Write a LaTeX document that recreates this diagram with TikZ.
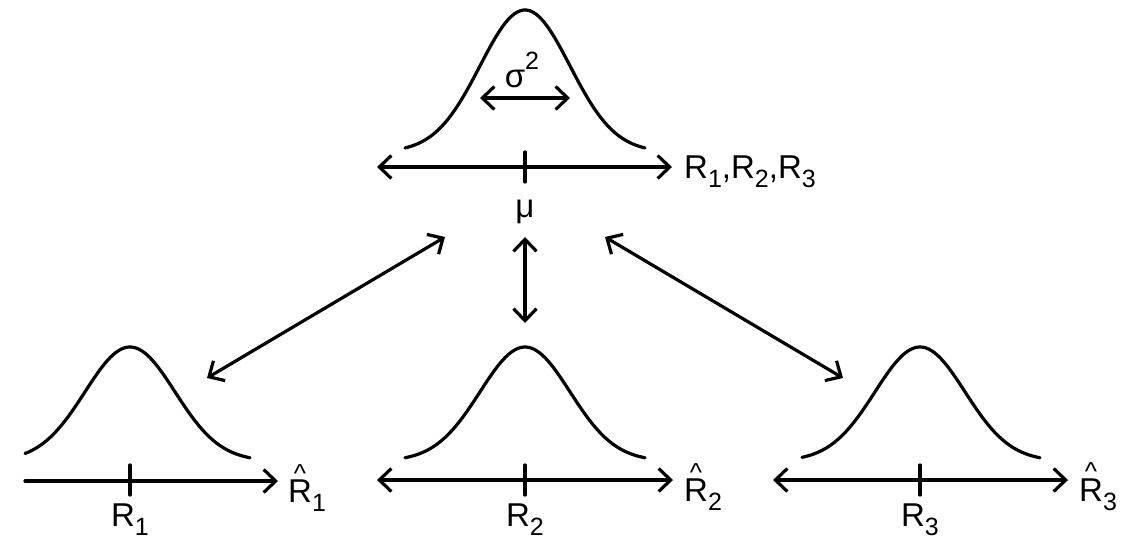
\documentclass[tikz,border=0pt]{standalone}
\usepackage{fontspec}
\setmainfont{Liberation Sans}
\usetikzlibrary{arrows.meta}
\newcommand\mysub[1]{\raisebox{-0.28em}{\fontsize{25}{25}\selectfont #1}}
\newcommand\mysup[1]{\raisebox{0.55em}{\fontsize{25}{25}\selectfont #1}}
\newcommand\myhatR{\rlap{\hspace{0.17em}\raisebox{0.62em}{\fontsize{26}{26}\selectfont\^{}}}R}
\tikzset{
  ln/.style={line width=3.2pt, line cap=round, line join=round},
  tip/.style={ln, arrows={Straight Barb[length=12pt,width=23pt,line width=3.2pt]-Straight Barb[length=12pt,width=23pt,line width=3.2pt]}},
  rtip/.style={ln, arrows={-Straight Barb[length=12pt,width=23pt,line width=3.2pt]}},
  lbl/.style={inner sep=0pt, font=\fontsize{33}{38}\selectfont},
  bell/.style={ln, smooth, samples=80}
}
\begin{document}
\begin{tikzpicture}[x=1pt,y=-1pt]
\useasboundingbox (0,0) rectangle (1135,539);
% top distribution
\draw[bell] plot[domain=-120:120] ({525+\x},{152-142*exp(-(\x*\x)/4050)});
\coordinate (sl) at (480,98); \coordinate (sr) at (570,98);
\draw[tip] (sl) -- (sr);
\node[lbl] (sig) at (522,70) {σ\mysup{2}};
\coordinate (tl) at (377,167); \coordinate (tr) at (672,167);
\draw[tip] (tl) -- (tr);
\coordinate (tt) at (525,152); \coordinate (tb) at (525,182);
\draw[ln] (tt) -- (tb);
\node[lbl, anchor=west] (rr) at (684,172) {R\mysub{1},R\mysub{2},R\mysub{3}};
\node[lbl] (mu) at (525,212) {μ};
% bottom left
\draw[bell] plot[domain=-105:120] ({130+\x},{461-114*exp(-(\x*\x)/4050)});
\coordinate (al) at (25,481); \coordinate (ar) at (278,481);
\draw[rtip] (al) -- (ar);
\draw[ln] (130,465) -- (130,495);
\node[lbl] (r1) at (130,520) {R\mysub{1}};
\node[lbl, anchor=west] (h1) at (288,488) {\myhatR\mysub{1}};
% bottom middle
\draw[bell] plot[domain=-120:120] ({525+\x},{461-114*exp(-(\x*\x)/4050)});
\coordinate (bl) at (377,480); \coordinate (br) at (673,480);
\draw[tip] (bl) -- (br);
\draw[ln] (525,465) -- (525,495);
\node[lbl] (r2) at (525,520) {R\mysub{2}};
\node[lbl, anchor=west] (h2) at (684,487) {\myhatR\mysub{2}};
% bottom right
\draw[bell] plot[domain=-118:120] ({920+\x},{461-114*exp(-(\x*\x)/4050)});
\coordinate (cl) at (773,480); \coordinate (cr) at (1068,480);
\draw[tip] (cl) -- (cr);
\draw[ln] (920,465) -- (920,495);
\node[lbl] (r3) at (920,520) {R\mysub{3}};
\node[lbl, anchor=west] (h3) at (1079,487) {\myhatR\mysub{3}};
% connectors
\coordinate (c1a) at (445,237); \coordinate (c1b) at (207,378);
\coordinate (c2a) at (525,237); \coordinate (c2b) at (525,323);
\coordinate (c3a) at (605,237); \coordinate (c3b) at (843,378);
\draw[tip] (c1a) -- (c1b);
\draw[tip] (c2a) -- (c2b);
\draw[tip] (c3a) -- (c3b);
\end{tikzpicture}
\end{document}
